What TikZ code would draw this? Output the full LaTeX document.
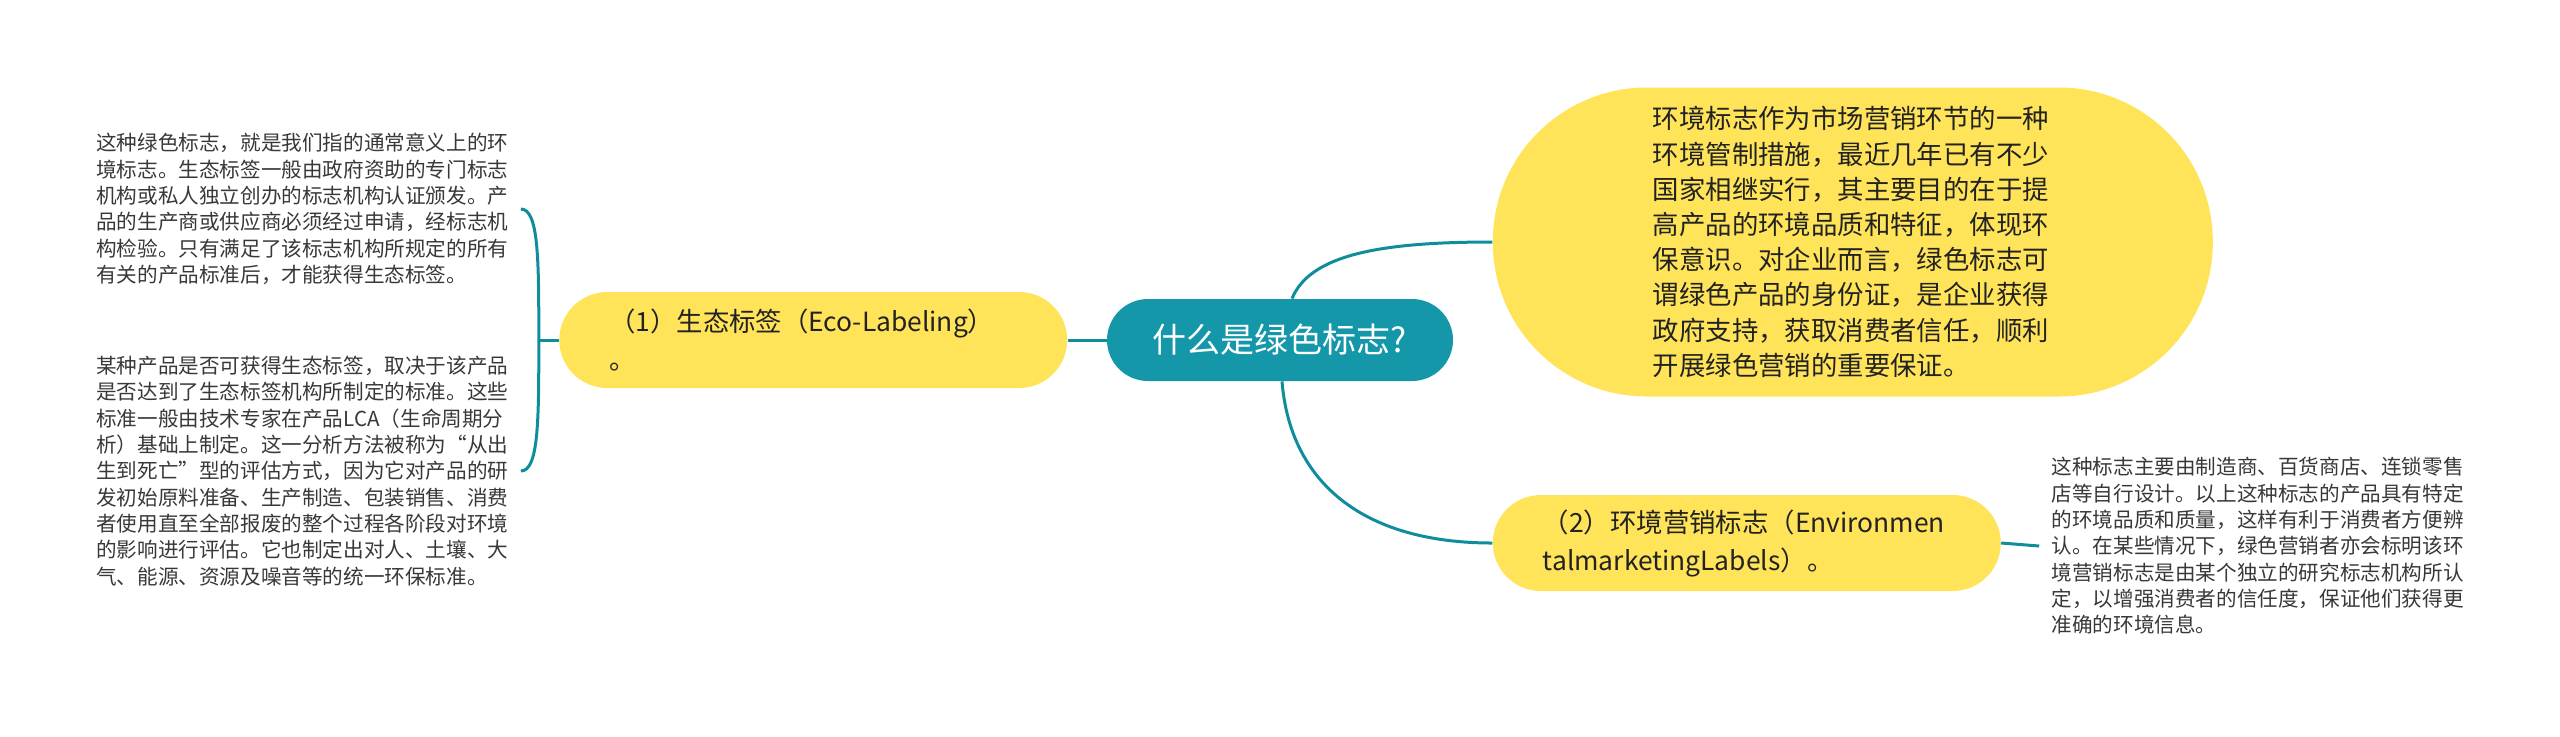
\documentclass[tikz,border=0pt]{standalone}
\usepackage{fontspec}
\setmainfont{Noto Sans CJK SC}
\usepackage{tikz}
\usetikzlibrary{positioning}
\definecolor{sea}{HTML}{1497A9}
\definecolor{line}{HTML}{0F8D9C}
\definecolor{sun}{HTML}{FFE45A}
\definecolor{ink}{HTML}{222222}

\begin{document}
\begin{tikzpicture}[font=\fontsize{10.3pt}{13.15pt}\selectfont, node distance=19.5pt,
 root/.style={fill=sea,text=white,rounded corners=20.5pt,minimum width=173pt,minimum height=41pt,font=\fontsize{17pt}{20pt}\selectfont},
 topic/.style={fill=sun,text=ink,rounded corners=24pt,minimum width=254pt,minimum height=48pt,inner xsep=25pt,text width=204pt,align=left,font=\fontsize{13.2pt}{19pt}\selectfont},
 memo/.style={text=ink!90,align=left,inner xsep=6pt,inner ysep=0pt},
 link/.style={draw=line,line width=1.5pt}]
\useasboundingbox (0,0) rectangle (1280pt,-368pt);
\node[root] (c) at (640pt,-170pt) {什么是绿色标志?};
\node[topic, left=of c] (eco) {（1）生态标签（Eco-Labeling）\\。};
\node[topic, right=of c, yshift=49pt, minimum width=360pt, minimum height=154.5pt, rounded corners=77pt, text width=200pt, font=\fontsize{13.2pt}{17.6pt}\selectfont] (env) {环境标志作为市场营销环节的一种\\环境管制措施，最近几年已有不少\\国家相继实行，其主要目的在于提\\高产品的环境品质和特征，体现环\\保意识。对企业而言，绿色标志可\\谓绿色产品的身份证，是企业获得\\政府支持，获取消费者信任，顺利\\开展绿色营销的重要保证。};
\node[topic, right=of c, yshift=-101.5pt] (mkt) {（2）环境营销标志（Environmen\\talmarketingLabels）。};
\node[memo, left=19pt of eco, yshift=65.5pt] (m1) {这种绿色标志，就是我们指的通常意义上的环\\境标志。生态标签一般由政府资助的专门标志\\机构或私人独立创办的标志机构认证颁发。产\\品的生产商或供应商必须经过申请，经标志机\\构检验。只有满足了该标志机构所规定的所有\\有关的产品标准后，才能获得生态标签。};
\node[memo, left=19pt of eco, yshift=-65.5pt] (m2) {某种产品是否可获得生态标签，取决于该产品\\是否达到了生态标签机构所制定的标准。这些\\标准一般由技术专家在产品LCA（生命周期分\\析）基础上制定。这一分析方法被称为“从出\\生到死亡”型的评估方式，因为它对产品的研\\发初始原料准备、生产制造、包装销售、消费\\者使用直至全部报废的整个过程各阶段对环境\\的影响进行评估。它也制定出对人、土壤、大\\气、能源、资源及噪音等的统一环保标准。};
\node[memo, right=19pt of mkt, yshift=-1.5pt] (m3) {这种标志主要由制造商、百货商店、连锁零售\\店等自行设计。以上这种标志的产品具有特定\\的环境品质和质量，这样有利于消费者方便辨\\认。在某些情况下，绿色营销者亦会标明该环\\境营销标志是由某个独立的研究标志机构所认\\定，以增强消费者的信任度，保证他们获得更\\准确的环境信息。};
\coordinate (j1) at ([xshift=-10pt]eco.west);
\draw[link] (c.west) -- (eco.east);
\draw[link] ([xshift=6pt]c.north) .. controls +(9pt,22pt) and +(-56pt,0) .. (env.west);
\draw[link] ([xshift=1pt]c.south) .. controls +(4pt,-49.5pt) and +(-66pt,0) .. (mkt.west);
\draw[link] (eco.west) -- (j1);
\draw[link] (j1) .. controls +(0,40pt) and +(9pt,0) .. (m1.east);
\draw[link] (j1) .. controls +(0,-40pt) and +(9pt,0) .. (m2.east);
\draw[link] (mkt.east) -- (m3.west);
\end{tikzpicture}
\end{document}
